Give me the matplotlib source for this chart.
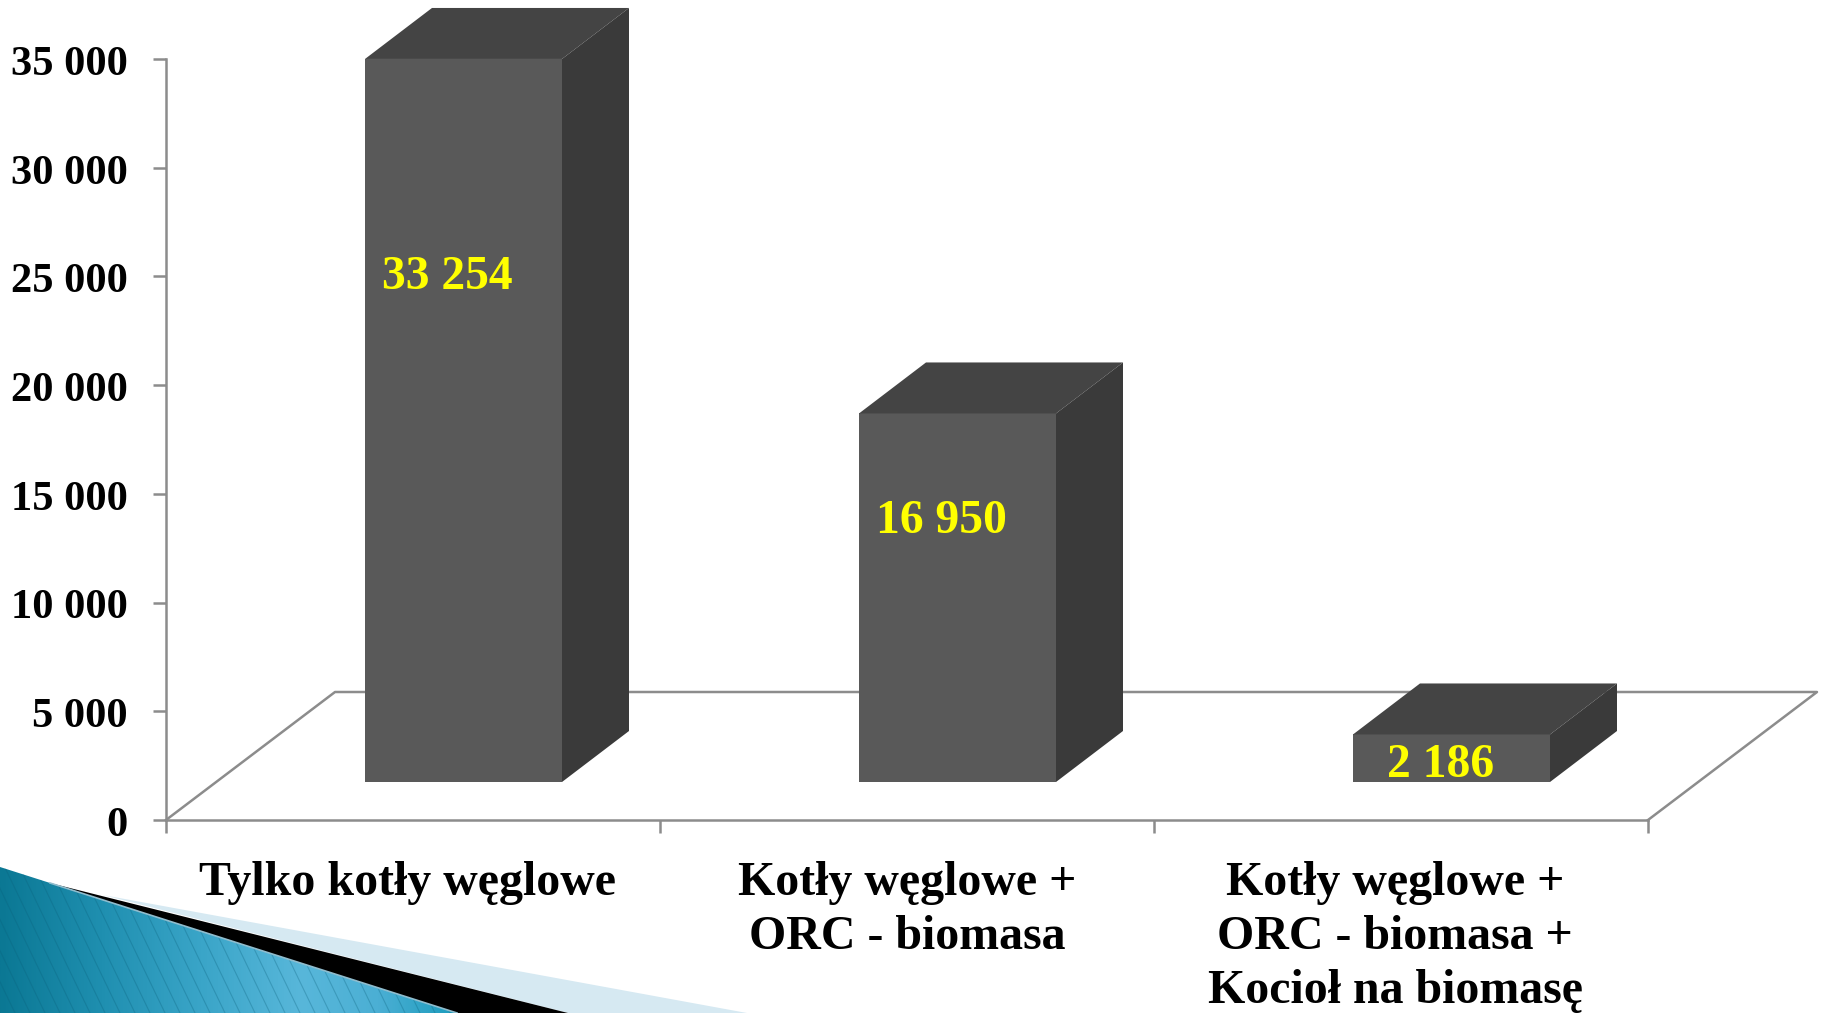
import numpy as np
import matplotlib
matplotlib.use("Agg")
import matplotlib.pyplot as plt
from matplotlib.patches import Polygon
from matplotlib.colors import LinearSegmentedColormap
from matplotlib.transforms import ScaledTranslation

plt.rcParams["font.family"] = ["Liberation Serif", "DejaVu Serif"]
plt.rcParams["font.weight"] = "bold"

# ---- data ----
categories = ["Tylko kotły węglowe", "Kotły węglowe +\nORC - biomasa", "Kotły węglowe +\nORC - biomasa +\nKocioł na biomasę"]
values = [33254, 16950, 2186]
value_labels = ["33 254", "16 950", "2 186"]
y_ticks = [0, 5000, 10000, 15000, 20000, 25000, 30000, 35000]
y_tick_labels = ["0", "5 000", "10 000", "15 000", "20 000", "25 000", "30 000", "35 000"]

# ---- layout (pixels of the 1823x1013 picture) ----
W, H = 1823, 1013
AX_L, AX_R, AX_T, AX_B = 166, 1648, 59, 820
PX_X = 3 / (AX_R - AX_L)      # categories per pixel
PX_Y = 35000 / (AX_B - AX_T)  # value units per pixel

# floor and bar depth of the fake 3D look
floor_dx, floor_dy = 169 * PX_X, 128 * PX_Y
bar_dx, bar_dy = 67 * PX_X, 51 * PX_Y
bar_base = 38 * PX_Y
bar_left = 199 * PX_X
bar_width = 197 * PX_X

label_x = [0.570, 1.570, 2.580]
label_y = [24990, 13770, 2550]
cat_x = [0.488, 1.5, 2.488]

GREY = "#8c8c8c"
FRONT, TOP, SIDE = "#595959", "#444444", "#3a3a3a"

fig = plt.figure(figsize=(W / 100, H / 100), dpi=100, facecolor="white")

# ---- corner decoration, in plain pixel coordinates ----
deco = fig.add_axes([0, 0, 1, 1], zorder=0)
deco.axis("off")
deco.add_patch(Polygon([(103, 895), (747, 1013), (568, 1013)], color="#d6e9f2", lw=0, zorder=1))
deco.add_patch(Polygon([(50, 883), (568, 1013), (457, 1013)], color="black", lw=0, zorder=2))

cmap = LinearSegmentedColormap.from_list(
    "corner",
    [(0, "#0b7894"), (0.22, "#1f8fb0"), (0.44, "#3aa5c8"), (0.66, "#58b7da"), (0.83, "#4bafd4"), (1, "#1c9cbd")],
)
gx = np.linspace(0, 1, 460)[None, :]
im = deco.imshow(gx, cmap=cmap, extent=(0, 457, 1013, 867), aspect="auto", vmin=0, vmax=1, zorder=3)
blue = Polygon([(0, 867), (457, 1013), (0, 1013)], fc="none", lw=0, zorder=3)
deco.add_patch(blue)
im.set_clip_path(blue)
# fine diagonal stripes on the blue corner
for x0 in np.arange(-80, 460, 15):
    ln, = deco.plot([x0, x0 + 80], [847, 1013], color="#0a5f7a", lw=0.8, alpha=0.3, zorder=4)
    ln.set_clip_path(blue)
deco.plot([50, 457], [883, 1013], color="#8fbccd", lw=1.2, zorder=5)
deco.set_xlim(0, W)
deco.set_ylim(H, 0)

# ---- chart ----
ax = fig.add_axes([AX_L / W, 1 - AX_B / H, (AX_R - AX_L) / W, (AX_B - AX_T) / H], zorder=1)
ax.patch.set_alpha(0)
ax.set_xlim(0, 3)
ax.set_ylim(0, 35000)
for side in ("top", "right"):
    ax.spines[side].set_visible(False)
for side in ("left", "bottom"):
    ax.spines[side].set_color(GREY)
    ax.spines[side].set_linewidth(1.8)

ax.set_yticks(y_ticks, y_tick_labels, fontsize=30.6)
ax.set_xticks([0, 1, 2, 3], [])
ax.tick_params(axis="both", color=GREY, width=1.8, length=9.5)
ax.tick_params(axis="y", pad=18)
shift = ScaledTranslation(0, -1 / 72, fig.dpi_scale_trans)
for lab in ax.get_yticklabels():
    lab.set_transform(lab.get_transform() + shift)

# floor outline behind the bars
ax.plot([0, floor_dx, 3 + floor_dx, 3], [0, floor_dy, floor_dy, 0], color=GREY, lw=1.8, clip_on=False, zorder=1)

xs = np.arange(len(values)) + bar_left
ax.bar(xs, values, width=bar_width, bottom=bar_base, align="edge", color=FRONT, zorder=3)
for x, v in zip(xs, values):
    top = bar_base + v
    r = x + bar_width
    ax.add_patch(Polygon([(x, top), (x + bar_dx, top + bar_dy), (r + bar_dx, top + bar_dy), (r, top)],
                         fc=TOP, lw=0, clip_on=False, zorder=3))
    ax.add_patch(Polygon([(r, bar_base), (r + bar_dx, bar_base + bar_dy), (r + bar_dx, top + bar_dy), (r, top)],
                         fc=SIDE, lw=0, clip_on=False, zorder=3))

for lx, ly, txt in zip(label_x, label_y, value_labels):
    ax.text(lx, ly, txt, color="#ffff00", fontsize=34.3, ha="center", va="center", zorder=4)

for cx, txt in zip(cat_x, categories):
    ax.text(cx, -1880, txt, color="black", fontsize=34.5, ha="center", va="top", linespacing=1.3, clip_on=False, zorder=6)

fig.savefig("out.png", dpi=100)
